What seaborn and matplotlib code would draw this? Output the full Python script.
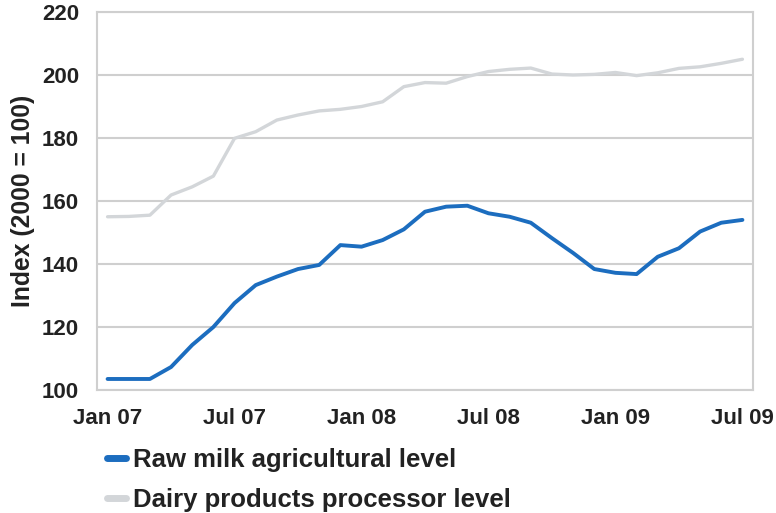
import matplotlib
matplotlib.use("Agg")
import matplotlib.pyplot as plt
from matplotlib.ticker import FixedLocator
import numpy as np
import pandas as pd
import seaborn as sns

# Monthly index values, Jan 2007 .. Jul 2009 (2000 = 100)
raw_milk = [103.5, 103.5, 103.5, 107.3, 114.3, 120.0, 127.6, 133.3, 136.0, 138.4,
            139.7, 146.0, 145.5, 147.6, 151.0, 156.6, 158.2, 158.5, 156.1, 155.0,
            153.1, 148.2, 143.5, 138.4, 137.2, 136.8, 142.3, 145.0, 150.3, 153.1,
            154.0]
dairy_products = [155.0, 155.1, 155.5, 161.9, 164.5, 167.9, 179.9, 182.0, 185.7, 187.3,
                  188.6, 189.1, 190.0, 191.5, 196.3, 197.6, 197.4, 199.5, 201.1, 201.8,
                  202.2, 200.3, 200.0, 200.2, 200.8, 199.8, 200.7, 202.1, 202.6, 203.7,
                  205.0]
series_names = ["Raw milk agricultural level", "Dairy products processor level"]
tick_labels = ["Jan 07", "Jul 07", "Jan 08", "Jul 08", "Jan 09", "Jul 09"]
y_ticks = [100, 120, 140, 160, 180, 200, 220]

month = np.arange(len(raw_milk))
df = pd.DataFrame({
    "month": np.concatenate([month, month]),
    "value": raw_milk + dairy_products,
    "series": [series_names[0]] * len(raw_milk) + [series_names[1]] * len(dairy_products),
})

sns.set_style("white")
plt.rcParams["font.family"] = ["Liberation Sans", "DejaVu Sans"]
text_color = "#222222"
grid_color = "#cfcfcf"

fig = plt.figure(figsize=(7.76, 5.13), dpi=100)
ax = fig.add_axes([97 / 776, 1 - 390 / 513, 656 / 776, 378 / 513])

palette = {series_names[0]: "#1c6dbf", series_names[1]: "#d3d6d9"}
sns.lineplot(data=df, x="month", y="value", hue="series", palette=palette,
             hue_order=series_names, ax=ax, legend=True)
for line, lw in zip(ax.get_lines(), [2.8, 2.4]):
    line.set_linewidth(lw)
    line.set_solid_joinstyle("round")

# category-style axis: labels on months, tick marks on category boundaries
ax.set_xlim(-0.5, len(raw_milk) - 0.5)
ax.set_ylim(100, 220)
ax.set_yticks(y_ticks)
ax.set_xticks(month[::6])
ax.set_xticklabels(tick_labels)
ax.xaxis.set_minor_locator(FixedLocator(np.arange(-0.5, len(raw_milk), 6)))
ax.tick_params(axis="x", which="major", length=0, pad=13, labelsize=16, colors=text_color)
ax.tick_params(axis="x", which="minor", length=5, width=1.2, color=grid_color)
ax.tick_params(axis="y", length=0, pad=13, labelsize=16, colors=text_color)
for lbl in ax.get_xticklabels() + ax.get_yticklabels():
    lbl.set_fontweight("bold")

ax.yaxis.grid(True, color=grid_color, linewidth=1.5)
ax.set_axisbelow(True)
for side in ["left", "right", "top", "bottom"]:
    ax.spines[side].set_visible(True)
    ax.spines[side].set_color(grid_color)
    ax.spines[side].set_linewidth(1.5)

ax.set_xlabel("")
ax.set_ylabel("Index (2000 = 100)", fontsize=17.8, fontweight="bold", color=text_color, labelpad=5)

handles, labels = ax.get_legend_handles_labels()
ax.legend_.remove()
leg = fig.legend(handles, labels, loc="upper left", bbox_to_anchor=(107 / 776, 1 - 448 / 513),
                 frameon=False, fontsize=18.5, handlelength=0.75, handletextpad=0.25,
                 labelspacing=0.62, borderpad=0, borderaxespad=0)
for t in leg.get_texts():
    t.set_fontweight("bold")
    t.set_color(text_color)
for h in leg.get_lines():
    h.set_linewidth(5)

fig.savefig("out.png", dpi=100)
